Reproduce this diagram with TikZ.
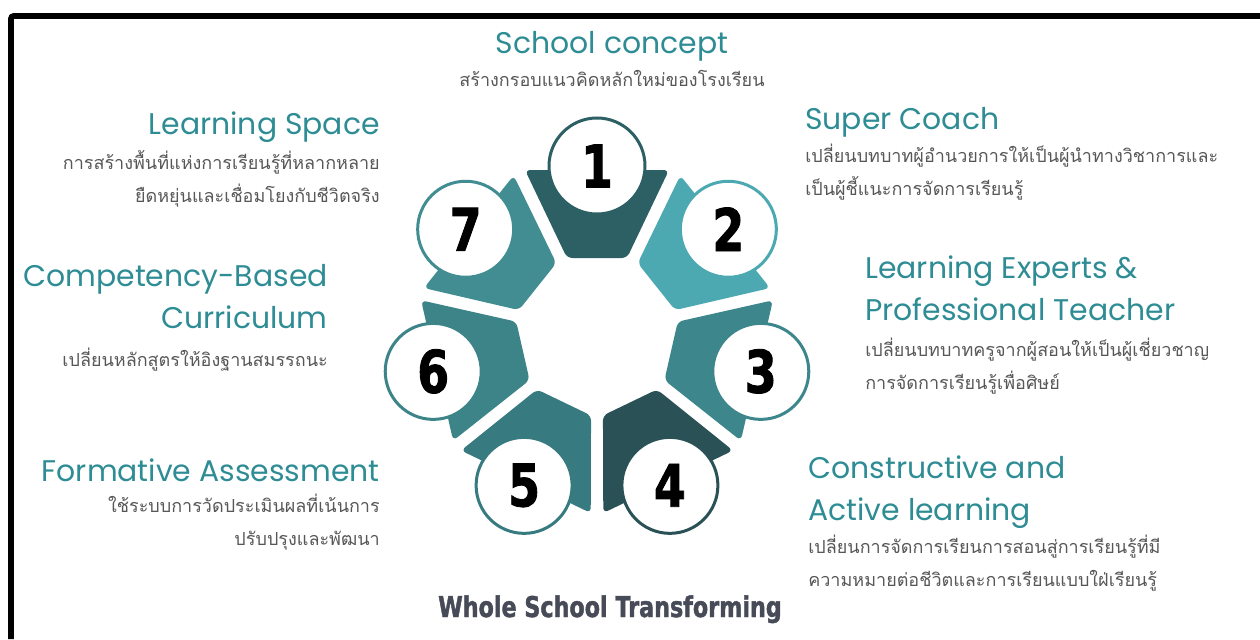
\documentclass[tikz,border=0pt]{standalone}
\usepackage{fontspec}
\setmainfont{DejaVu Sans}
\newfontfamily\thaifont[Script=Thai]{Loma}
\newfontfamily\headfont{Poppins}
\newfontfamily\numfont[FakeStretch=0.78,FakeBold=1.5,UprightFont={* Bold}]{DejaVu Sans}
\usetikzlibrary{positioning}

\definecolor{headteal}{HTML}{2E8C94}
\definecolor{descgray}{HTML}{575757}
\definecolor{titlegray}{HTML}{474B57}
\definecolor{seg1}{HTML}{2C6064}
\definecolor{seg2}{HTML}{4CA9B1}
\definecolor{seg3}{HTML}{3D878C}
\definecolor{seg4}{HTML}{2A5256}
\definecolor{seg5}{HTML}{377B80}
\definecolor{seg6}{HTML}{3D8488}
\definecolor{seg7}{HTML}{418D92}

\tikzset{
  heading/.style={font=\headfont\fontsize{22.4}{31.5}\selectfont, text=headteal, inner sep=0pt},
  desc/.style={font=\thaifont\fontsize{13.5}{24.75}\selectfont, text=descgray, inner sep=0pt},
  numcircle/.style={circle, draw, line width=2.25pt, fill=white, minimum size=72pt,
    inner sep=0pt, font=\numfont\fontsize{44}{44}\selectfont}
}

\begin{document}
\begin{tikzpicture}[x=0.75pt,y=0.75pt]

            \useasboundingbox (0,0) rectangle (1260,-639);

            \draw[line width=4.3pt, rounded corners=2pt] (11,-639) -- (11,-16) -- (1260,-16);

            % wheel
            \begin{scope}[shift={(597,-334)}]
              \foreach \n in {1,...,7}
                \fill[seg\n, rounded corners=4pt, rotate={-(\n-1)*360/7}]
                  (-72,164) -- (72,164) -- (30,76) -- (-30,76) -- cycle;
              \foreach \n in {1,...,7}
                \node[numcircle, draw=seg\n] (c\n) at ({90-(\n-1)*360/7}:168) {\n};
            \end{scope}

            % headings
            \node[heading, anchor=base] (sc) at (612,-53) {School concept};
            \node[desc, below=7pt of sc] (scdesc) {สร้างกรอบแนวคิดหลักใหม่ของโรงเรียน};

            \node[heading, anchor=north east] (ls) at (380,-112) {Learning Space};
            \node[desc, below=5pt of ls.south east, anchor=north east, align=right] (lsdesc)
              {การสร้างพื้นที่แห่งการเรียนรู้ที่หลากหลาย\\ยืดหยุ่นและเชื่อมโยงกับชีวิตจริง};

            \node[heading, anchor=north west] (coach) at (805,-107) {Super Coach};
            \node[desc, below=5pt of coach.south west, anchor=north west, align=left] (coachdesc)
              {เปลี่ยนบทบาทผู้อำนวยการให้เป็นผู้นำทางวิชาการและ\\เป็นผู้ชี้แนะการจัดการเรียนรู้};

            \node[heading, anchor=north west, align=left] (expert) at (865,-256)
              {Learning Experts \&\\Professional Teacher};
            \node[desc, below=12pt of expert.south west, anchor=north west, align=left] (expertdesc)
              {เปลี่ยนบทบาทครูจากผู้สอนให้เป็นผู้เชี่ยวชาญ\\การจัดการเรียนรู้เพื่อศิษย์};

            \node[heading, anchor=north west, align=left] (active) at (808,-455)
              {Constructive and\\Active learning};
            \node[desc, below=5pt of active.south west, anchor=north west, align=left] (activedesc)
              {เปลี่ยนการจัดการเรียนการสอนสู่การเรียนรู้ที่มี\\ความหมายต่อชีวิตและการเรียนแบบใฝ่เรียนรู้};

            \node[heading, anchor=north east, align=right] (cbc) at (328,-264)
              {Competency-Based\\Curriculum};
            \node[desc, below=14pt of cbc.south east, anchor=north east] (cbcdesc)
              {เปลี่ยนหลักสูตรให้อิงฐานสมรรถนะ};

            \node[heading, anchor=north east] (fa) at (380,-458) {Formative Assessment};
            \node[desc, below=9pt of fa.south east, anchor=north east, align=right] (fadesc)
              {ใช้ระบบการวัดประเมินผลที่เน้นการ\\ปรับปรุงและพัฒนา};

            \node[font=\numfont\fontsize{21.4}{24}\selectfont, text=titlegray, anchor=base] (title)
              at (610,-617) {Whole School Transforming};

\end{tikzpicture}
\end{document}
